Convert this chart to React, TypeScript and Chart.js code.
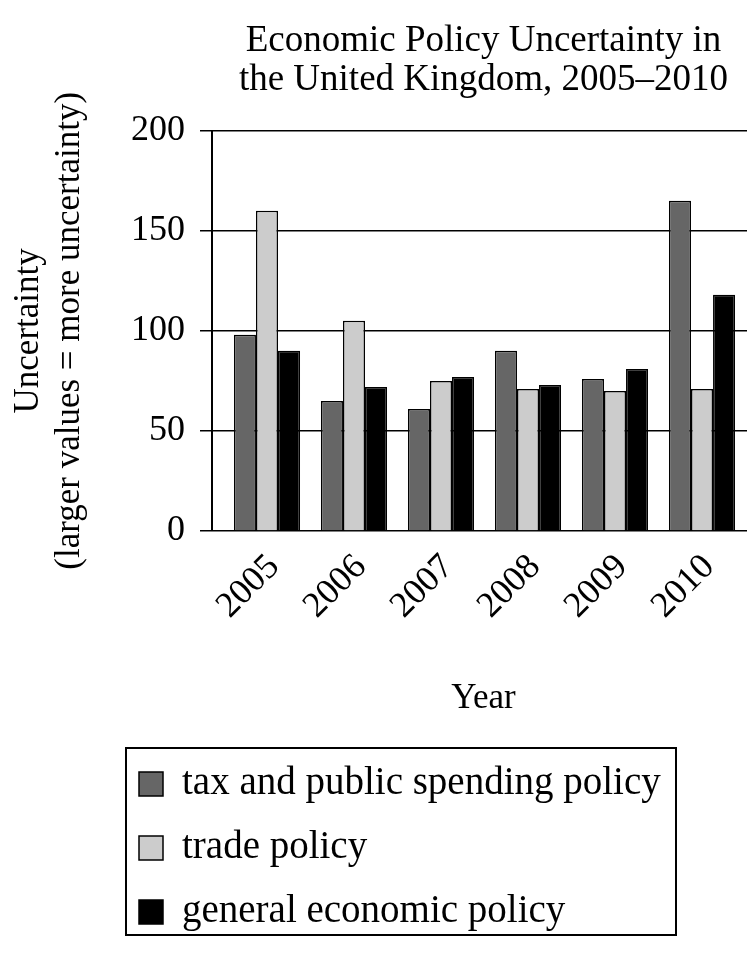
import { useEffect, useRef } from 'react';
import { Chart, registerables } from 'chart.js';

Chart.register(...registerables);

const years = [2005, 2006, 2007, 2008, 2009, 2010];
const taxSpending = [98, 65, 61, 90, 76, 165];
const tradePolicy = [160, 105, 75, 71, 70, 71];
const generalPolicy = [90, 72, 77, 73, 81, 118];
const seriesNames = ['tax and public spending policy', 'trade policy', 'general economic policy'];
const seriesColors = ['#666666', '#cccccc', '#000000'];
const yTickValues = [0, 50, 100, 150, 200];
const titleLines = ['Economic Policy Uncertainty in', 'the United Kingdom, 2005\u20132010'];
const yTitleLines = ['Uncertainty', '(larger values = more uncertainty)'];
const xTitle = 'Year';

const FAMILY = "'Liberation Serif', 'Times New Roman', serif";

const boxLegend = {
  id: 'boxLegend',
  afterDraw(chart: any) {
    const o = chart.options.plugins.boxLegend;
    if (!o) return;
    const ctx = chart.ctx;
    ctx.save();
    ctx.strokeStyle = '#000';
    ctx.lineWidth = 2;
    ctx.strokeRect(o.x, o.y, o.w, o.h);
    chart.data.datasets.forEach((ds: any, i: number) => {
      const cy = o.y + o.firstRow + i * o.rowGap;
      ctx.fillStyle = ds.backgroundColor;
      ctx.fillRect(o.sx, cy - o.size / 2, o.size, o.size);
      ctx.lineWidth = 1.5;
      ctx.strokeStyle = '#000';
      ctx.strokeRect(o.sx, cy - o.size / 2, o.size, o.size);
      ctx.fillStyle = '#000';
      ctx.font = `${o.fontSize}px ${FAMILY}`;
      ctx.textBaseline = 'middle';
      ctx.textAlign = 'left';
      ctx.fillText(ds.label, o.tx, cy);
    });
    ctx.restore();
  },
};

export default function App() {
  const ref = useRef<HTMLCanvasElement | null>(null);

  useEffect(() => {
    if (!ref.current) return;
    const values = [taxSpending, tradePolicy, generalPolicy];
    const chart = new Chart(ref.current, {
      type: 'bar',
      data: {
        labels: years,
        datasets: values.map((v, i) => ({
          label: seriesNames[i],
          data: v,
          backgroundColor: seriesColors[i],
          borderColor: '#000',
          borderWidth: 1.5,
          categoryPercentage: 0.76,
          barPercentage: 1,
        })),
      },
      plugins: [boxLegend],
      options: {
        responsive: false,
        animation: false,
        devicePixelRatio: 1,
        layout: { padding: { left: 0, right: 0, top: 0, bottom: 235 } },
        plugins: {
          legend: { display: false },
          tooltip: { enabled: false },
          title: {
            display: true,
            text: titleLines,
            color: '#000',
            fullSize: false,
            font: { size: 37, family: FAMILY, weight: 'normal', lineHeight: 1.05 },
            padding: { top: 14, bottom: 31 },
          },
          boxLegend: {
            x: 118, y: 740, w: 550, h: 187,
            firstRow: 36, rowGap: 64, sx: 131, size: 24, tx: 174, fontSize: 39,
          },
        } as any,
        scales: {
          x: {
            type: 'linear',
            offset: false,
            min: 2004.368,
            max: 2010.609,
            afterBuildTicks: (scale: any) => {
              scale.ticks = years.map((v) => ({ value: v }));
            },
            afterFit: (scale: any) => {
              scale.height = 189;
              scale.paddingLeft = 0;
              scale.paddingRight = 0;
            },
            grid: { display: false, drawTicks: false },
            border: { display: false },
            ticks: {
              color: '#000',
              font: { size: 36, family: FAMILY },
              minRotation: 45,
              maxRotation: 45,
              padding: 15,
              labelOffset: 7,
              autoSkip: false,
              callback: (v: any) => String(v),
            },
            title: {
              display: true,
              text: xTitle,
              color: '#000',
              font: { size: 35, family: FAMILY, lineHeight: 1.2 },
              padding: { top: 40, bottom: 0 },
            },
          },
          y: {
            min: 0,
            max: 200,
            afterBuildTicks: (scale: any) => {
              scale.ticks = yTickValues.map((v) => ({ value: v }));
            },
            afterFit: (scale: any) => {
              scale.width = 204;
            },
            grid: { color: '#000', lineWidth: 1.5, tickLength: 12, tickColor: '#000', drawTicks: true },
            border: { display: true, color: '#000', width: 2 },
            ticks: {
              color: '#000',
              font: { size: 36, family: FAMILY },
              padding: 15,
              callback: (v: any) => String(v),
            },
            title: {
              display: true,
              text: yTitleLines,
              color: '#000',
              font: { size: 35, family: FAMILY, lineHeight: 1.15 },
              padding: { top: 1, bottom: 40 },
            },
          },
        },
      } as any,
    });
    return () => chart.destroy();
  }, []);

  return (
    <div style={{ width: 747, height: 947 }}>
      <canvas ref={ref} width={747} height={947} style={{ display: 'block' }} />
    </div>
  );
}
